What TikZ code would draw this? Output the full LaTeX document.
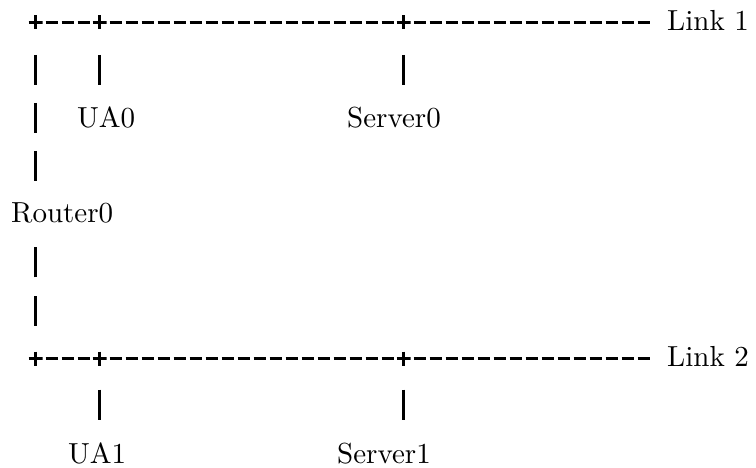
\documentclass[tikz,border=0pt]{standalone}
\usepackage{fontspec}
\setmainfont{lmroman10-regular}[Extension=.otf]
\begin{document}
\begin{tikzpicture}[x=1pt,y=-1pt,
  lbl/.style={font=\fontsize{29}{34}\selectfont, inner sep=0pt, anchor=base west},
  plusmark/.style={rectangle, inner sep=0pt, minimum width=14pt, minimum height=14pt,
    path picture={\draw[line width=2.9pt]
      (path picture bounding box.west) -- (path picture bounding box.east)
      (path picture bounding box.north) -- (path picture bounding box.south);}},
  hline/.style={line width=2.6pt, dash pattern=on 12.5pt off 3.5pt, shorten <=10pt},
  vbar/.style={line width=2.6pt, dash pattern=on 30pt off 18pt, shorten >=12pt}]
\useasboundingbox (0,0) rectangle (756,468);
% junctions on the two links
\node[plusmark] (p1a) at (35.5,22.5) {};
\node[plusmark] (p1b) at (99.5,22.5) {};
\node[plusmark] (p1c) at (403.5,22.5) {};
\node[plusmark] (p8a) at (35.5,358.5) {};
\node[plusmark] (p8b) at (99.5,358.5) {};
\node[plusmark] (p8c) at (403.5,358.5) {};
% labels
\node[lbl] (link1) at (667,30.5) {Link 1};
\node[lbl] (link2) at (667,366.5) {Link 2};
\node[lbl] (ua0) at (77,128) {UA0};
\node[lbl] (server0) at (347,128) {Server0};
\node[lbl] (router) at (11,223) {Router0};
\node[lbl] (ua1) at (68,463) {UA1};
\node[lbl] (server1) at (337,463) {Server1};
% link 1
\draw[hline, shorten >=10pt] (p1a.center) -- (p1b.center);
\draw[hline, shorten >=10pt] (p1b.center) -- (p1c.center);
\draw[hline, shorten >=17.25pt] (p1c.center) -- (p1c.center -| link1.west);
% link 2
\draw[hline, shorten >=10pt] (p8a.center) -- (p8b.center);
\draw[hline, shorten >=10pt] (p8b.center) -- (p8c.center);
\draw[hline, shorten >=17.25pt] (p8c.center) -- (p8c.center -| link2.west);
% drops
\draw[vbar, shorten <=32.5pt] (p1a.center) -- (p1a.center |- router.north);
\draw[vbar, shorten <=33pt] (p8a.center) -- (p8a.center |- router.south);
\draw[vbar, shorten <=32.5pt] (p1b.center) -- (p1b.center |- ua0.north);
\draw[vbar, shorten <=32.5pt] (p1c.center) -- (p1c.center |- server0.north);
\draw[vbar, shorten <=31pt] (p8b.center) -- (p8b.center |- ua1.north);
\draw[vbar, shorten <=31pt] (p8c.center) -- (p8c.center |- server1.north);
\end{tikzpicture}
\end{document}
